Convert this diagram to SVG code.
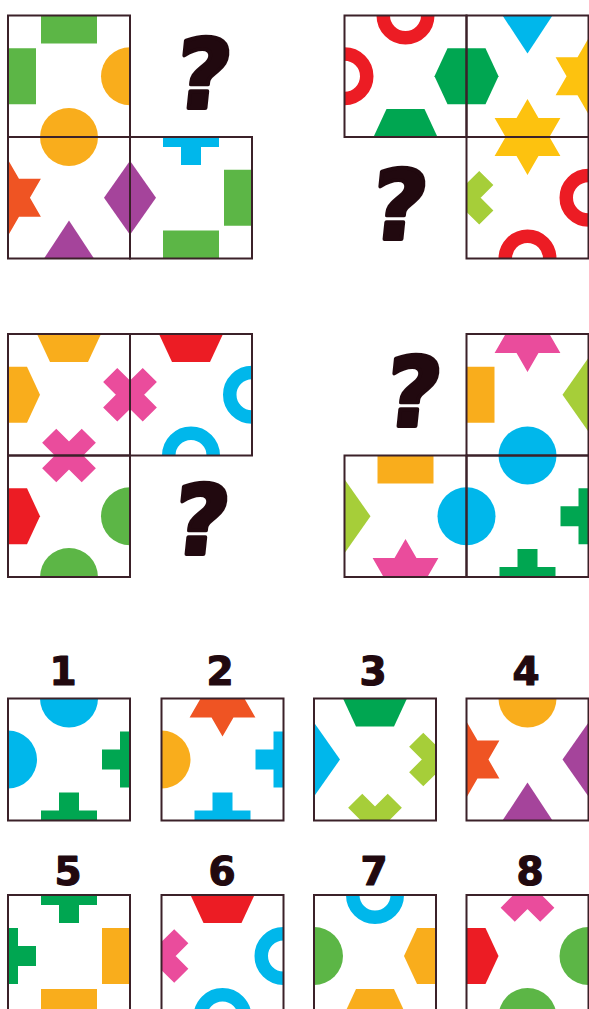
<svg xmlns="http://www.w3.org/2000/svg" xmlns:xlink="http://www.w3.org/1999/xlink" width="589" height="1009" viewBox="0 0 589 1009">
<style>
.cell{fill:none;stroke:#3b2129;stroke-width:2}
.q{font-family:"DejaVu Sans",sans-serif;font-weight:bold;font-size:96px;fill:#21090f;stroke:#21090f;stroke-width:4;stroke-linejoin:round;text-anchor:middle}
.num{font-family:"DejaVu Sans",sans-serif;font-weight:bold;font-size:39px;fill:#21090f;stroke:#21090f;stroke-width:1.2;stroke-linejoin:round;text-anchor:middle}
.lg{color:#5cb646}.or{color:#f9ad1c}.ro{color:#ef5423}.pu{color:#a5449b}.cy{color:#00b7eb}.dg{color:#00a651}.rd{color:#ec1c24}.ye{color:#fdc20f}.li{color:#a6ce39}.pk{color:#ea4c9c}
</style>
<defs>
<circle id="circ" r="29" fill="currentColor"/>
<circle id="ring" r="22.25" fill="none" stroke="currentColor" stroke-width="13.5"/>
<rect id="sq" x="-28" y="-28" width="56" height="56" fill="currentColor"/>
<path id="plus" d="M-28,-10H28V10H-28Z M-10,-28H10V28H-10Z" fill="currentColor"/>
<path id="xx" transform="rotate(45)" d="M-28,-10H28V10H-28Z M-10,-28H10V28H-10Z" fill="currentColor"/>
<polygon id="hex" points="-32,0 -19,-28 19,-28 32,0 19,28 -19,28" fill="currentColor"/>
<polygon id="star" points="0,-38 10.97,-19 32.9,-19 21.94,0 32.9,19 10.97,19 0,38 -10.97,19 -32.9,19 -21.94,0 -32.9,-19 -10.97,-19" fill="currentColor"/>
<polygon id="dia" points="0,-37 26,0 0,37 -26,0" fill="currentColor"/>
<polygon id="triU" points="0,-38 50,38 -50,38" fill="currentColor"/>
<polygon id="triD" points="0,38 50,-38 -50,-38" fill="currentColor"/>
</defs>
<rect width="589" height="1009" fill="#fff"/>

<!-- Puzzle 1 -->
<g id="puzzle1">
<g id="p1-tl"><svg x="8" y="15.5" width="122" height="121.5">
<use href="#sq" class="lg" x="61" y="0"/><use href="#sq" class="lg" x="0" y="60.75"/>
<use href="#circ" class="or" x="122" y="60.75"/><use href="#circ" class="or" x="61" y="121.5"/>
</svg></g>
<g id="p1-bl"><svg x="8" y="137" width="122" height="121.5">
<use href="#circ" class="or" x="61" y="0"/><use href="#star" class="ro" x="0" y="60.75"/>
<use href="#dia" class="pu" x="122" y="60.75"/><use href="#triU" class="pu" x="61" y="121.5"/>
</svg></g>
<g id="p1-br"><svg x="130" y="137" width="122" height="121.5">
<use href="#plus" class="cy" x="61" y="0"/><use href="#dia" class="pu" x="0" y="60.75"/>
<use href="#sq" class="lg" x="122" y="60.75"/><use href="#sq" class="lg" x="61" y="121.5"/>
</svg></g>
<g id="p1-borders">
<rect class="cell" x="8" y="15.5" width="122" height="121.5"/>
<rect class="cell" x="8" y="137" width="122" height="121.5"/>
<rect class="cell" x="130" y="137" width="122" height="121.5"/>
</g>
<text class="q" transform="translate(200,108) skewX(-6)">?</text>
</g>

<!-- Puzzle 2 -->
<g id="puzzle2">
<g id="p2-tl"><svg x="344.5" y="15.5" width="122" height="121.5">
<use href="#ring" class="rd" x="61" y="0"/><use href="#ring" class="rd" x="0" y="60.75"/>
<use href="#hex" class="dg" x="122" y="60.75"/><use href="#hex" class="dg" x="61" y="121.5"/>
</svg></g>
<g id="p2-tr"><svg x="466.5" y="15.5" width="122" height="121.5">
<use href="#triD" class="cy" x="61" y="0"/><use href="#hex" class="dg" x="0" y="60.75"/>
<use href="#star" class="ye" x="122" y="60.75"/><use href="#star" class="ye" x="61" y="121.5"/>
</svg></g>
<g id="p2-br"><svg x="466.5" y="137" width="122" height="121.5">
<use href="#star" class="ye" x="61" y="0"/><use href="#xx" class="li" x="0" y="60.75"/>
<use href="#ring" class="rd" x="122" y="60.75"/><use href="#ring" class="rd" x="61" y="121.5"/>
</svg></g>
<g id="p2-borders">
<rect class="cell" x="344.5" y="15.5" width="122" height="121.5"/>
<rect class="cell" x="466.5" y="15.5" width="122" height="121.5"/>
<rect class="cell" x="466.5" y="137" width="122" height="121.5"/>
</g>
<text class="q" transform="translate(396,239) skewX(-6)">?</text>
</g>

<!-- Puzzle 3 -->
<g id="puzzle3">
<g id="p3-tl"><svg x="8" y="334" width="122" height="121.5">
<use href="#hex" class="or" x="61" y="0"/><use href="#hex" class="or" x="0" y="60.75"/>
<use href="#xx" class="pk" x="122" y="60.75"/><use href="#xx" class="pk" x="61" y="121.5"/>
</svg></g>
<g id="p3-tr"><svg x="130" y="334" width="122" height="121.5">
<use href="#hex" class="rd" x="61" y="0"/><use href="#xx" class="pk" x="0" y="60.75"/>
<use href="#ring" class="cy" x="122" y="60.75"/><use href="#ring" class="cy" x="61" y="121.5"/>
</svg></g>
<g id="p3-bl"><svg x="8" y="455.5" width="122" height="121.5">
<use href="#xx" class="pk" x="61" y="0"/><use href="#hex" class="rd" x="0" y="60.75"/>
<use href="#circ" class="lg" x="122" y="60.75"/><use href="#circ" class="lg" x="61" y="121.5"/>
</svg></g>
<g id="p3-borders">
<rect class="cell" x="8" y="334" width="122" height="121.5"/>
<rect class="cell" x="130" y="334" width="122" height="121.5"/>
<rect class="cell" x="8" y="455.5" width="122" height="121.5"/>
</g>
<text class="q" transform="translate(198,554) skewX(-6)">?</text>
</g>

<!-- Puzzle 4 -->
<g id="puzzle4">
<g id="p4-tr"><svg x="466.5" y="334" width="122" height="121.5">
<use href="#star" class="pk" x="61" y="0"/><use href="#sq" class="or" x="0" y="60.75"/>
<use href="#dia" class="li" x="122" y="60.75"/><use href="#circ" class="cy" x="61" y="121.5"/>
</svg></g>
<g id="p4-bl"><svg x="344.5" y="455.5" width="122" height="121.5">
<use href="#sq" class="or" x="61" y="0"/><use href="#dia" class="li" x="0" y="60.75"/>
<use href="#circ" class="cy" x="122" y="60.75"/><use href="#star" class="pk" x="61" y="121.5"/>
</svg></g>
<g id="p4-br"><svg x="466.5" y="455.5" width="122" height="121.5">
<use href="#circ" class="cy" x="61" y="0"/><use href="#circ" class="cy" x="0" y="60.75"/>
<use href="#plus" class="dg" x="122" y="60.75"/><use href="#plus" class="dg" x="61" y="121.5"/>
</svg></g>
<g id="p4-borders">
<rect class="cell" x="466.5" y="334" width="122" height="121.5"/>
<rect class="cell" x="344.5" y="455.5" width="122" height="121.5"/>
<rect class="cell" x="466.5" y="455.5" width="122" height="121.5"/>
</g>
<text class="q" transform="translate(410,426) skewX(-6)">?</text>
</g>

<!-- Answers -->
<g id="answers">
<g id="a1"><text class="num" x="63" y="685">1</text>
<svg x="8" y="698.5" width="122" height="122">
<use href="#circ" class="cy" x="61" y="0"/><use href="#circ" class="cy" x="0" y="61"/>
<use href="#plus" class="dg" x="122" y="61"/><use href="#plus" class="dg" x="61" y="122"/>
</svg><rect class="cell" x="8" y="698.5" width="122" height="122"/></g>
<g id="a2"><text class="num" x="220" y="685">2</text>
<svg x="161.5" y="698.5" width="122" height="122">
<use href="#star" class="ro" x="61" y="0"/><use href="#circ" class="or" x="0" y="61"/>
<use href="#plus" class="cy" x="122" y="61"/><use href="#plus" class="cy" x="61" y="122"/>
</svg><rect class="cell" x="161.5" y="698.5" width="122" height="122"/></g>
<g id="a3"><text class="num" x="373" y="685">3</text>
<svg x="314" y="698.5" width="122" height="122">
<use href="#hex" class="dg" x="61" y="0"/><use href="#dia" class="cy" x="0" y="61"/>
<use href="#xx" class="li" x="122" y="61"/><use href="#xx" class="li" x="61" y="122"/>
</svg><rect class="cell" x="314" y="698.5" width="122" height="122"/></g>
<g id="a4"><text class="num" x="526" y="685">4</text>
<svg x="466.5" y="698.5" width="122" height="122">
<use href="#circ" class="or" x="61" y="0"/><use href="#star" class="ro" x="0" y="61"/>
<use href="#dia" class="pu" x="122" y="61"/><use href="#triU" class="pu" x="61" y="122"/>
</svg><rect class="cell" x="466.5" y="698.5" width="122" height="122"/></g>
<g id="a5"><text class="num" x="68" y="885">5</text>
<svg x="8" y="895" width="122" height="122">
<use href="#plus" class="dg" x="61" y="0"/><use href="#plus" class="dg" x="0" y="61"/>
<use href="#sq" class="or" x="122" y="61"/><use href="#sq" class="or" x="61" y="122"/>
</svg><rect class="cell" x="8" y="895" width="122" height="122"/></g>
<g id="a6"><text class="num" x="222" y="885">6</text>
<svg x="161.5" y="895" width="122" height="122">
<use href="#hex" class="rd" x="61" y="0"/><use href="#xx" class="pk" x="0" y="61"/>
<use href="#ring" class="cy" x="122" y="61"/><use href="#ring" class="cy" x="61" y="122"/>
</svg><rect class="cell" x="161.5" y="895" width="122" height="122"/></g>
<g id="a7"><text class="num" x="374" y="885">7</text>
<svg x="314" y="895" width="122" height="122">
<use href="#ring" class="cy" x="61" y="0"/><use href="#circ" class="lg" x="0" y="61"/>
<use href="#hex" class="or" x="122" y="61"/><use href="#hex" class="or" x="61" y="122"/>
</svg><rect class="cell" x="314" y="895" width="122" height="122"/></g>
<g id="a8"><text class="num" x="530" y="885">8</text>
<svg x="466.5" y="895" width="122" height="122">
<use href="#xx" class="pk" x="61" y="0"/><use href="#hex" class="rd" x="0" y="61"/>
<use href="#circ" class="lg" x="122" y="61"/><use href="#circ" class="lg" x="61" y="122"/>
</svg><rect class="cell" x="466.5" y="895" width="122" height="122"/></g>
</g>
</svg>
